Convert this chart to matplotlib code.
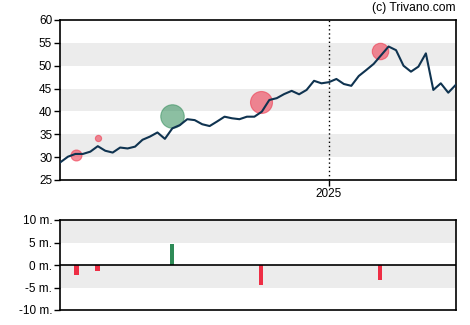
import matplotlib
matplotlib.use("Agg")
import matplotlib.pyplot as plt
import numpy as np

plt.rcParams['font.family'] = ['Liberation Sans', 'DejaVu Sans']

# Weekly closing prices
prices = [28.9, 30.1, 30.7, 30.7, 31.2, 32.4, 31.4, 31.0, 32.1, 31.9,
          32.3, 33.8, 34.5, 35.4, 34.0, 36.3, 37.0, 38.3, 38.1, 37.2,
          36.8, 37.8, 38.85, 38.5, 38.3, 38.85, 38.85, 39.95, 42.5, 42.9,
          43.8, 44.5, 43.75, 44.7, 46.7, 46.15, 46.4, 47.1, 46.0, 45.6,
          47.75, 49.05, 50.4, 52.3, 54.2, 53.4, 50.0, 48.7, 49.8, 52.7,
          44.7, 46.15, 44.1, 45.8]

# Insider transactions: week position, trade price, net volume (millions)
trade_pos = [2.1, 5.0, 14.95, 26.9, 42.85]
trade_price = [30.5, 34.1, 39.0, 42.1, 53.3]
trade_volume = [-2.2, -1.25, 4.7, -4.4, -3.3]

year_tick_pos = 36
year_tick_label = "2025"

price_ticks = [25, 30, 35, 40, 45, 50, 55, 60]
volume_ticks = [-10, -5, 0, 5, 10]
volume_labels = ["-10 m.", "-5 m.", "0 m.", "5 m.", "10 m."]

RED = "#ee2e45"
GREEN = "#2e8b57"
LINE = "#0f3350"
BAND = "#ececec"

fig = plt.figure(figsize=(4.70, 3.25), dpi=100)
W, H = 470, 325
ax = fig.add_axes([60.5 / W, 1 - 180 / H, (455.7 - 60.5) / W, 160 / H])
axv = fig.add_axes([60.5 / W, 1 - 310 / H, (455.7 - 60.5) / W, 90 / H])

x = np.arange(len(prices))
xmax = len(prices) - 1

# Price panel
for lo in (30, 40, 50):
    ax.axhspan(lo, lo + 5, color=BAND, lw=0, zorder=0)
ax.axvline(year_tick_pos, color="black", ls=(0, (1, 2)), lw=1, zorder=1)
for p, v, vol in zip(trade_pos, trade_price, trade_volume):
    col = GREEN if vol > 0 else RED
    d_pt = 5.0 * abs(vol) * 0.72
    ax.scatter([p], [v], s=d_pt ** 2, color=col, alpha=0.55,
               edgecolors=col, linewidths=0.8, zorder=2)
ax.plot(x, prices, color=LINE, lw=1.5, zorder=3)
ax.set_xlim(0, xmax)
ax.set_ylim(25, 60)
ax.set_yticks(price_ticks)
ax.set_xticks([year_tick_pos])
ax.set_xticklabels([year_tick_label])

# Volume panel
for lo in (-5, 5):
    axv.axhspan(lo, lo + 5, color=BAND, lw=0, zorder=0)
axv.axhline(0, color="black", lw=1.2, zorder=2)
bar_colors = [GREEN if v > 0 else RED for v in trade_volume]
axv.bar(trade_pos, trade_volume, width=0.63, color=bar_colors, zorder=1)
axv.set_xlim(0, xmax)
axv.set_ylim(-10, 10)
axv.set_yticks(volume_ticks)
axv.set_yticklabels(volume_labels)
axv.set_xticks([])

for a in (ax, axv):
    for s in a.spines.values():
        s.set_linewidth(1.2)
        s.set_color("black")
    a.tick_params(axis="both", labelsize=8.5, length=4, width=1,
                  pad=2, colors="black")

fig.text(455.7 / W, 1 - 8.5 / H, "(c) Trivano.com", ha="right", va="center",
         fontsize=8.7, color="black")

fig.savefig("out.png", dpi=100)
